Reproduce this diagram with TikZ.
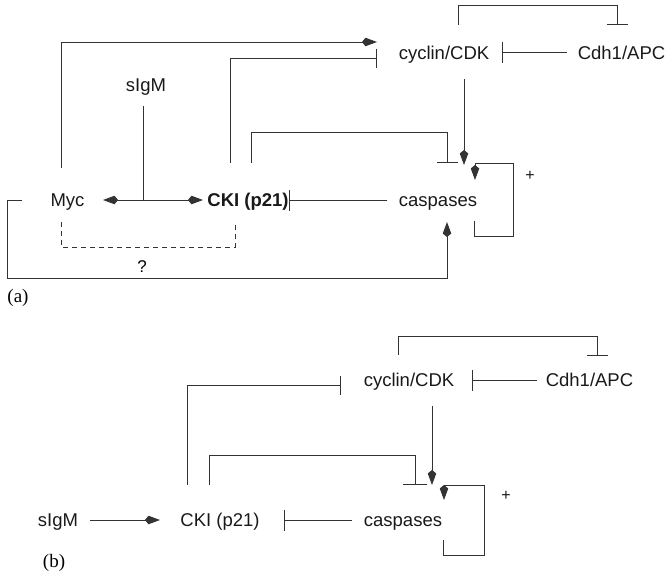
\documentclass[tikz,border=0pt]{standalone}
\usepackage{fontspec}
\setmainfont{Liberation Sans}
\newfontfamily\panelfont{Liberation Serif}
\usetikzlibrary{arrows.meta}
\definecolor{ln}{gray}{0.2}
\tikzset{
  lbl/.style={inner sep=0pt, anchor=base, font=\fontsize{18.5}{22}\selectfont, text=black!90},
  plbl/.style={inner sep=0pt, font=\panelfont\fontsize{19}{22}\selectfont},
  conn/.style={draw=ln, line width=1pt},
  act/.style={conn, -{Kite[length=15pt,width=8.5pt,inset=3.5pt]}},
  inh/.style={conn, -{Bar[width=21pt]}},
  dsh/.style={conn, dashed, dash pattern=on 5pt off 4pt},
}
\begin{document}
\begin{tikzpicture}[x=1pt,y=-1pt]
\useasboundingbox (0,0) rectangle (667,576);
% ---------- panel (a) ----------
\node[lbl] (mycA) at (67.5,206.5) {Myc};
\node[lbl] (sigA) at (146,91.5) {sIgM};
\node[lbl, font=\bfseries\fontsize{18.5}{22}\selectfont] (ckiA) at (248,206.5) {CKI (p21)};
\node[lbl] (casA) at (438,206.5) {caspases};
\node[lbl] (cycA) at (444,59) {cyclin/CDK};
\node[lbl] (cdhA) at (621.5,59) {Cdh1/APC};
\node[inner sep=0pt] (qA) at (142,267) {\fontsize{17}{18}\selectfont ?};
\node[lbl, anchor=base] (plusA) at (530,180) {\fontsize{16}{18}\selectfont +};
\node[plbl] (pa) at (18,298) {(a)};

\coordinate (jA) at (143,200);
\coordinate (mycArr) at (103,200);
\coordinate (ckiArr) at (203,200);
\draw[conn] (143,106) coordinate (sigAbot) -- (jA);
\draw[act] (jA) -- (mycArr);
\draw[act] (jA) -- (ckiArr);
% Myc -> cyclin/CDK
\coordinate (mycTop) at (61,168);
\coordinate (cycAin1) at (377,42);
\draw[act] (mycTop) |- (cycAin1);
% CKI -| cyclin/CDK
\coordinate (ckiTop1) at (230,163);
\coordinate (cycAin2) at (377,58);
\draw[conn, -{Bar[width=19pt]}] (ckiTop1) |- (cycAin2);
% caspases -| CKI
\coordinate (casAl) at (387,200);
\coordinate (ckiAr) at (289,200);
\draw[inh] (casAl) -- (ckiAr);
% Cdh1 -| cyclin
\coordinate (cdhAl) at (567,52);
\coordinate (cycAr) at (502,52);
\draw[inh] (cdhAl) -- (cycAr);
% cyclin -| Cdh1 (top loop)
\draw[inh] (458,25) coordinate (cycAtop) -- (458,5) -- (617,5) -- (617,25) coordinate (cdhAtop);
% cyclin -> caspases
\coordinate (cycAbot) at (464,79);
\coordinate (casAtop1) at (464,165);
\draw[act] (cycAbot) -- (casAtop1);
% CKI -| caspases
\coordinate (ckiTop2) at (251,163);
\draw[inh] (ckiTop2) -- (251,132) -- (447,132) -- (447,163) coordinate (casAtop2);
% caspases self loop
\coordinate (casAbot) at (474,221);
\coordinate (casAtop3) at (475,180);
\draw[act] (casAbot) -- (474,236) -- (513,236) -- (513,163) -- (475,163) -- (casAtop3);
% Myc -> caspases (bottom)
\coordinate (mycL) at (22,200);
\coordinate (casAbot2) at (447,222);
\draw[act] (mycL) -- (7,200) -- (7,278) -- (447,278) -- (casAbot2);
% dashed
\draw[dsh] (61,222) coordinate (mycBot) -- (61,247) -- (235,247) -- (235,222) coordinate (ckiBot);

% ---------- panel (b) ----------
\node[lbl] (sigB) at (58,526.5) {sIgM};
\node[lbl] (ckiB) at (220,526.5) {CKI (p21)};
\node[lbl] (casB) at (403,526) {caspases};
\node[lbl] (cycB) at (409,386.5) {cyclin/CDK};
\node[lbl] (cdhB) at (589.5,386.5) {Cdh1/APC};
\node[lbl, anchor=base] (plusB) at (506,500) {\fontsize{16}{18}\selectfont +};
\node[plbl] (pb) at (54,563) {(b)};

\coordinate (sigBr) at (90,520);
\coordinate (ckiBl) at (160,520);
\draw[act] (sigBr) -- (ckiBl);
\coordinate (casBl) at (352,520);
\coordinate (ckiBr) at (284,520);
\draw[inh] (casBl) -- (ckiBr);
\coordinate (cdhBl) at (537,380);
\coordinate (cycBr) at (472,380);
\draw[inh] (cdhBl) -- (cycBr);
\draw[inh] (398,355) coordinate (cycBtop) -- (398,336) -- (597,336) -- (597,356) coordinate (cdhBtop);
\coordinate (ckiBtop1) at (187,485);
\coordinate (cycBl) at (341,385);
\draw[conn, -{Bar[width=19pt]}] (ckiBtop1) |- (cycBl);
\coordinate (cycBbot) at (432,406);
\coordinate (casBtop1) at (432,485);
\draw[act] (cycBbot) -- (casBtop1);
\coordinate (ckiBtop2) at (209,485);
\draw[conn, -{Bar[width=24pt]}] (ckiBtop2) -- (209,455) -- (415,455) -- (415,485) coordinate (casBtop2);
\coordinate (casBbot) at (443,540);
\coordinate (casBtop3) at (444,500);
\draw[act] (casBbot) -- (443,555) -- (484,555) -- (484,485) -- (444,485) -- (casBtop3);
\end{tikzpicture}
\end{document}
